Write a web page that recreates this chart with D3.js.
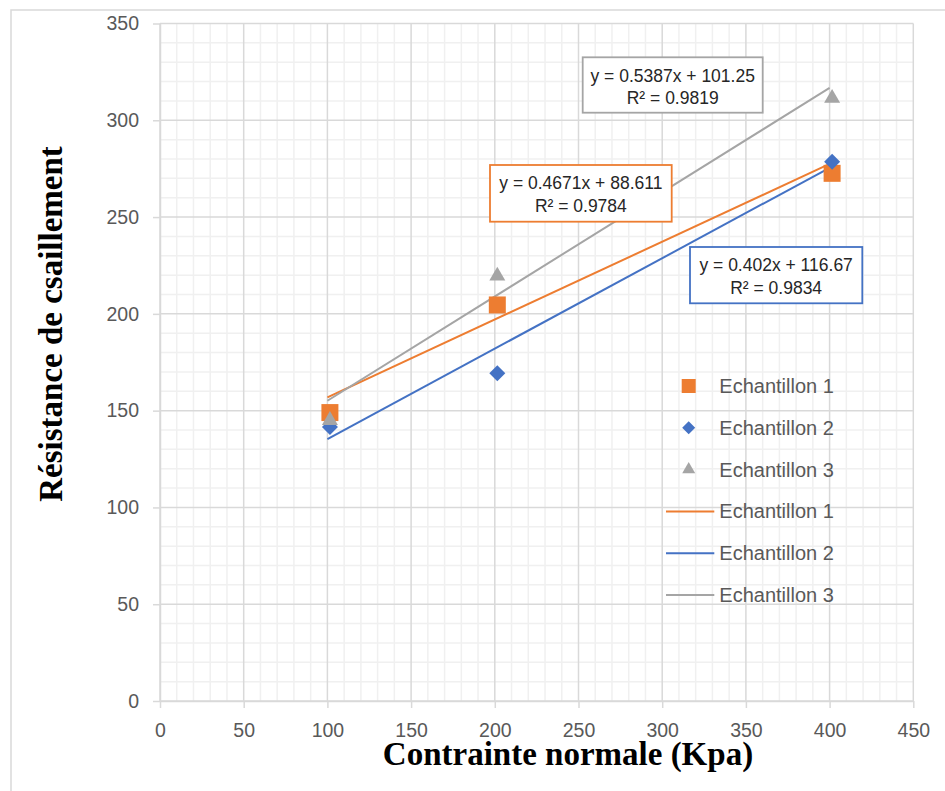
<!DOCTYPE html>
<html><head><meta charset="utf-8">
<script src="https://cdn.jsdelivr.net/npm/d3@7"></script>
<style>
html,body{margin:0;padding:0;background:#fff;}
svg{display:block;}
</style></head>
<body>
<script>
// ---- data ----
const seriesNames = ["Echantillon 1", "Echantillon 2", "Echantillon 3"];
const xValues = [101.5, 201.5, 401.5];
const ech1 = [149, 204.6, 272.6];
const ech2 = [141.5, 169.3, 278.6];
const ech3 = [145, 219.6, 311.4];
// trendlines drawn (slope, intercept) over x range
const trendSlopes = [0.402, 0.4671, 0.5387];
const trendIntercepts = [116.67, 88.611, 101.25];
const trendRange = [100, 400];
// equation labels as shown in boxes
const labelLine1 = ["y = 0.5387x + 101.25", "y = 0.4671x + 88.611", "y = 0.402x + 116.67"];
const labelLine2 = ["R² = 0.9819", "R² = 0.9784", "R² = 0.9834"];
const xTicks = [0, 50, 100, 150, 200, 250, 300, 350, 400, 450];
const yTicks = [0, 50, 100, 150, 200, 250, 300, 350];
const colors = ["#ED7D31", "#4472C4", "#A5A5A5"];
const seriesData = [ech1, ech2, ech3];

const W = 945, H = 791;
const svg = d3.select("body").append("svg").attr("width", W).attr("height", H);

// outer frame (only top/left visible)
svg.append("path").attr("d", `M11,${H} L11,10 L${W},10`).attr("fill","none").attr("stroke","#d9d9d9").attr("stroke-width",1.5);

const x = d3.scaleLinear().domain([0, 450]).range([160, 913.3]);
const y = d3.scaleLinear().domain([0, 350]).range([701, 23.5]);

// minor grid
const minorX = d3.range(0, 451, 10).filter(v => v % 50 !== 0);
const minorY = d3.range(0, 351, 10).filter(v => v % 50 !== 0);
const grid = svg.append("g");
grid.selectAll(".mx").data(minorX).join("line")
  .attr("x1", d => x(d)).attr("x2", d => x(d)).attr("y1", y(0)).attr("y2", y(350))
  .attr("stroke", "#f0f0f0").attr("stroke-width", 1.5);
grid.selectAll(".my").data(minorY).join("line")
  .attr("y1", d => y(d)).attr("y2", d => y(d)).attr("x1", x(0)).attr("x2", x(450))
  .attr("stroke", "#f0f0f0").attr("stroke-width", 1.5);
// major grid
grid.selectAll(".Mx").data(xTicks).join("line")
  .attr("x1", d => x(d)).attr("x2", d => x(d)).attr("y1", y(0)).attr("y2", y(350))
  .attr("stroke", "#d9d9d9").attr("stroke-width", 1.5);
grid.selectAll(".My").data(yTicks).join("line")
  .attr("y1", d => y(d)).attr("y2", d => y(d)).attr("x1", x(0)).attr("x2", x(450))
  .attr("stroke", "#d9d9d9").attr("stroke-width", 1.5);

// axes
const tickFont = "'Liberation Sans', Arial, sans-serif";
const xAxis = svg.append("g").attr("transform", `translate(0,${y(0)})`)
  .call(d3.axisBottom(x).tickValues(xTicks).tickSize(7).tickPadding(15.5).tickSizeOuter(0));
const yAxis = svg.append("g").attr("transform", `translate(${x(0)},0)`)
  .call(d3.axisLeft(y).tickValues(yTicks).tickSize(7).tickPadding(14).tickSizeOuter(0));
[xAxis, yAxis].forEach(a => {
  a.select(".domain").attr("stroke", "#d9d9d9").attr("stroke-width", 1.5);
  a.selectAll(".tick line").attr("stroke", "#d9d9d9").attr("stroke-width", 1.5);
  a.selectAll(".tick text").attr("fill", "#595959").style("font-family", tickFont).style("font-size", "19.5px");
});

// trendlines
const line = d3.line().x(d => x(d[0])).y(d => y(d[1]));
trendSlopes.forEach((m, i) => {
  const pts = trendRange.map(v => [v, m * v + trendIntercepts[i]]);
  svg.append("path").attr("d", line(pts)).attr("fill", "none")
    .attr("stroke", colors[i]).attr("stroke-width", 2);
});

// marker shapes
function markerPath(kind, s) {
  const h = s / 2;
  if (kind === 0) return `M${-h},${-h}H${h}V${h}H${-h}Z`;
  if (kind === 1) return `M0,${-h}L${h},0L0,${h}L${-h},0Z`;
  const th = s * Math.sqrt(3) / 2;
  return `M0,${-th * 2 / 3}L${h},${th / 3}L${-h},${th / 3}Z`;
}
const markerSizes = [17, 16, 16];
seriesData.forEach((vals, i) => {
  svg.append("g").selectAll("path").data(vals).join("path")
    .attr("d", markerPath(i, markerSizes[i]))
    .attr("transform", (d, j) => `translate(${x(xValues[j])},${y(d)})`)
    .attr("fill", colors[i]);
});

// equation boxes
const boxes = [
  {x: 582.7, y: 57.3, w: 180, h: 55.4, c: "#A5A5A5"},
  {x: 490, y: 165, w: 181.7, h: 56.7, c: "#ED7D31"},
  {x: 690, y: 247, w: 172.3, h: 56.3, c: "#4472C4"}
];
boxes.forEach((b, i) => {
  const g = svg.append("g");
  g.append("rect").attr("x", b.x).attr("y", b.y).attr("width", b.w).attr("height", b.h)
    .attr("fill", "#fff").attr("stroke", b.c).attr("stroke-width", 1.8);
  g.append("text").attr("x", b.x + b.w / 2).attr("y", b.y + 24.3).attr("text-anchor", "middle")
    .style("font-family", tickFont).style("font-size", "17.5px").attr("fill", "#262626").text(labelLine1[i]);
  g.append("text").attr("x", b.x + b.w / 2).attr("y", b.y + 46.7).attr("text-anchor", "middle")
    .style("font-family", tickFont).style("font-size", "17.5px").attr("fill", "#262626").text(labelLine2[i]);
});

// legend
const legY0 = 386, legStep = 41.8;
const leg = svg.append("g");
for (let i = 0; i < 6; i++) {
  const cy = legY0 + i * legStep;
  const k = i % 3;
  if (i < 3) {
    leg.append("path").attr("d", markerPath(k, [14, 13, 13][k]))
      .attr("transform", `translate(688.7,${cy})`).attr("fill", colors[k]);
  } else {
    leg.append("line").attr("x1", 666).attr("x2", 714.3).attr("y1", cy).attr("y2", cy)
      .attr("stroke", colors[k]).attr("stroke-width", 2);
  }
  leg.append("text").attr("x", 719.3).attr("y", cy).attr("dy", "0.35em")
    .style("font-family", tickFont).style("font-size", "20px").attr("fill", "#595959")
    .text(seriesNames[k]);
}

// axis titles
const titleFont = "'Liberation Serif', 'Times New Roman', serif";
svg.append("text").attr("x", 568).attr("y", 765).attr("text-anchor", "middle")
  .style("font-family", titleFont).style("font-weight", "bold").style("font-size", "33px")
  .attr("fill", "#000").text("Contrainte normale (Kpa)");
svg.append("text").attr("transform", "translate(62,324) rotate(-90)").attr("text-anchor", "middle")
  .style("font-family", titleFont).style("font-weight", "bold").style("font-size", "33px")
  .attr("fill", "#000").text("Résistance de csaillement");
</script>
</body></html>
